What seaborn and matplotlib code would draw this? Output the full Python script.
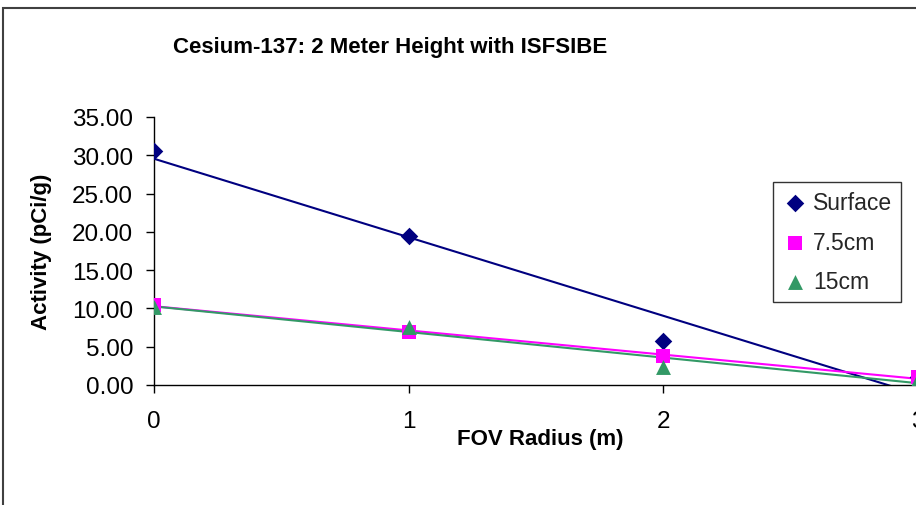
import matplotlib
matplotlib.use("Agg")
import matplotlib.pyplot as plt
import matplotlib.patches as mpatches
import seaborn as sns
import pandas as pd

# ---- data ----
radius = [0, 1, 2, 3]
surface = [30.6, 19.4, 5.7, 1.0]
cm7_5 = [10.5, 6.9, 3.8, 1.0]
cm15 = [10.2, 7.6, 2.4, 0.8]
series_names = ["Surface", "7.5cm", "15cm"]
yticks = [0, 5, 10, 15, 20, 25, 30, 35]
xticks = [0, 1, 2, 3]

colors = {"Surface": "#000080", "7.5cm": "#FF00FF", "15cm": "#339966"}
markers = {"Surface": "D", "7.5cm": "s", "15cm": "^"}
sizes = {"Surface": 80, "7.5cm": 100, "15cm": 115}

df = pd.DataFrame({
    "radius": radius * 3,
    "activity": surface + cm7_5 + cm15,
    "series": [series_names[0]] * 4 + [series_names[1]] * 4 + [series_names[2]] * 4,
})

sns.set_theme(style="white")
plt.rcParams["font.family"] = ["Liberation Sans", "DejaVu Sans"]

W, H = 916, 506
fig = plt.figure(figsize=(W / 100, H / 100), dpi=100)
ax = fig.add_axes([154 / W, 1 - 386 / H, (917.5 - 154) / W, (386 - 118) / H])
ax.set_xlim(0, 3)
ax.set_ylim(0, 35)

# trend lines (linear fits) through seaborn
for name in series_names:
    sub = df[df["series"] == name]
    sns.regplot(data=sub, x="radius", y="activity", ax=ax, scatter=False, ci=None,
                truncate=False, color=colors[name], line_kws={"lw": 1.5, "zorder": 2})

# markers
for name in series_names:
    sub = df[df["series"] == name]
    sns.scatterplot(data=sub, x="radius", y="activity", ax=ax, marker=markers[name],
                    s=sizes[name], color=colors[name], edgecolor=colors[name],
                    linewidth=0, label=name, zorder=3, clip_on=True)

ax.set_xlim(0, 3)
ax.set_ylim(0, 35)
ax.set_xticks(xticks)
ax.set_yticks(yticks)
ax.set_yticklabels([f"{v:.2f}" for v in yticks])
ax.set_xlabel("")
ax.set_ylabel("")
for s in ["top", "right"]:
    ax.spines[s].set_visible(False)
for s in ["left", "bottom"]:
    ax.spines[s].set_color("#000000")
    ax.spines[s].set_linewidth(1.0)
ax.tick_params(axis="both", which="major", direction="out", length=6, width=1.0,
               color="#000000", labelsize=17.5, labelcolor="#000000",
               left=True, bottom=True)
ax.tick_params(axis="y", pad=9)
ax.tick_params(axis="x", pad=12)

leg = ax.legend(loc="upper left",
                bbox_to_anchor=((773 - 154) / (917.5 - 154), (386 - 183) / (386 - 118)),
                fontsize=16.5, frameon=True, fancybox=False, shadow=False,
                handletextpad=0.25, borderpad=0.4, labelspacing=0.72, handlelength=1.1,
                borderaxespad=0)
leg.get_frame().set_edgecolor("#000000")
leg.get_frame().set_linewidth(1.0)

fig.text(390 / W, 1 - 48 / H, "Cesium-137: 2 Meter Height with ISFSIBE",
         ha="center", va="center", fontsize=16, fontweight="bold", color="#000000")
fig.text(540 / W, 1 - 440 / H, "FOV Radius (m)", ha="center", va="center",
         fontsize=16, fontweight="bold", color="#000000")
fig.text(42 / W, 1 - 252 / H, "Activity (pCi/g)", ha="center", va="center",
         rotation=90, fontsize=16, fontweight="bold", color="#000000")

# chart area border
fig.patches.append(mpatches.Rectangle((3 / W, -0.2), 1.5, 1 - 9 / H + 0.2,
                                      transform=fig.transFigure, fill=False,
                                      edgecolor="#404040", linewidth=1.5))

fig.savefig("out.png", dpi=100)
